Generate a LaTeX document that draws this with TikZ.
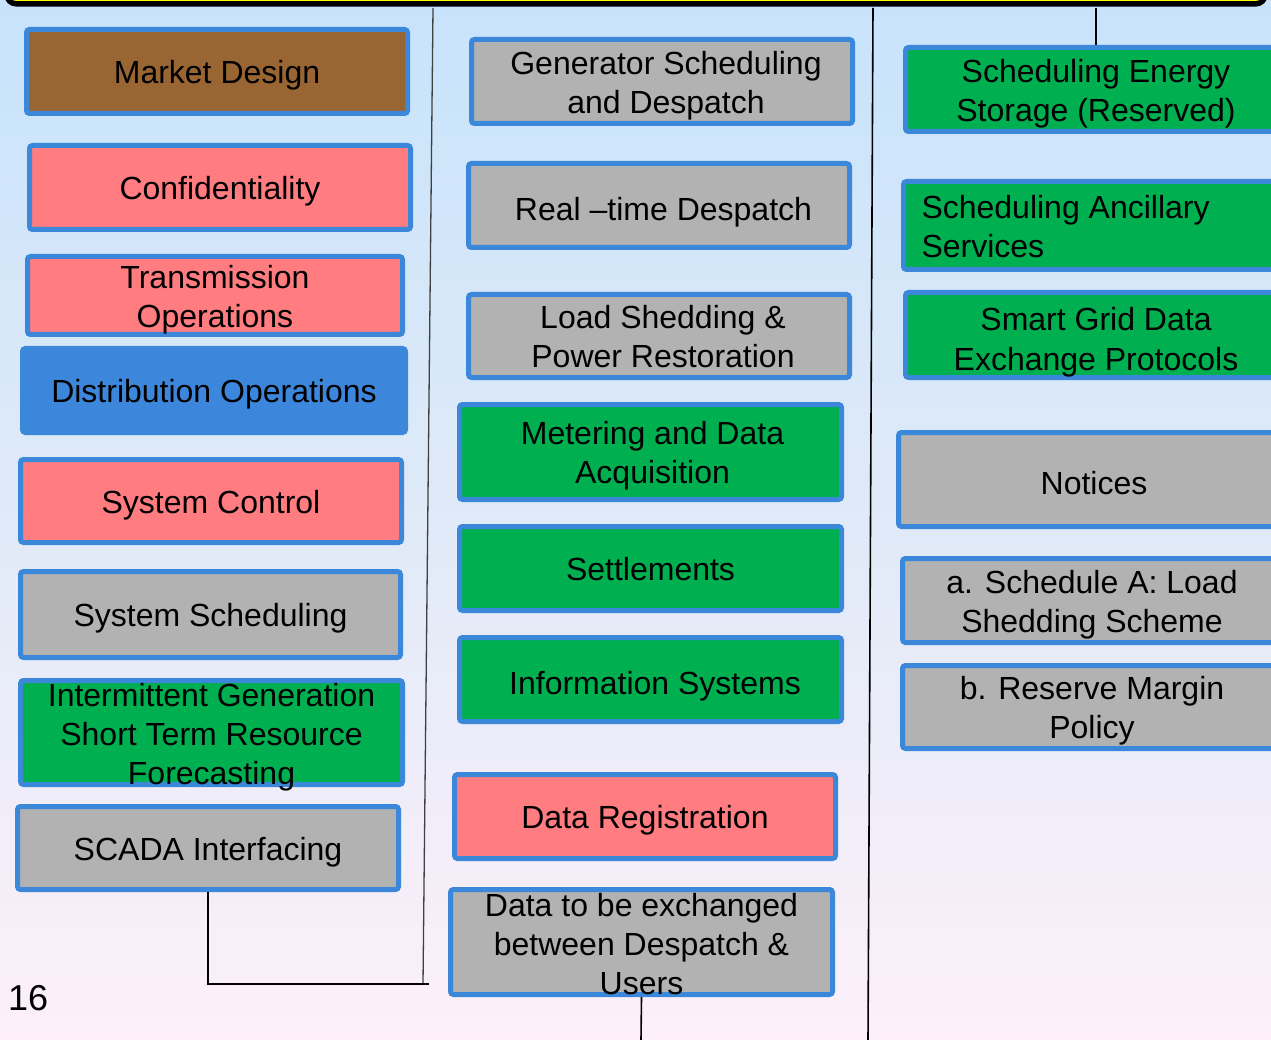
\documentclass[tikz,border=0pt]{standalone}
\usepackage{fontspec}
\setmainfont{Liberation Sans}
\definecolor{bdr}{RGB}{59,135,217}
\definecolor{cbrown}{RGB}{153,102,51}
\definecolor{cpink}{RGB}{255,124,128}
\definecolor{cgray}{RGB}{178,178,178}
\definecolor{cgreen}{RGB}{0,176,80}
\definecolor{cblue}{RGB}{60,135,219}
\definecolor{bgtop}{RGB}{199,227,251}
\definecolor{bgmid}{RGB}{224,234,248}
\definecolor{bgbot}{RGB}{253,240,250}
\definecolor{ctop}{RGB}{255,255,0}
\newcommand\txr[3][c]{\raisebox{#2}[\height][\depth]{\begin{tabular}{@{}#1@{}}#3\end{tabular}}}
\newcommand\tx[2][c]{\txr[#1]{-4.5pt}{#2}}
\tikzset{
  bx/.style={draw=bdr, line width=5pt, rounded corners=3pt, inner sep=0pt,
    font=\fontsize{32}{39}\selectfont, text=black},
  conn/.style={draw=black, line width=1.6pt},
  thinconn/.style={draw=black!75, line width=1.3pt},
}
\begin{document}
\begin{tikzpicture}[x=1pt,y=-1pt]
\useasboundingbox (0,0) rectangle (1271,1040);
\clip (0,0) rectangle (1271,1040);
\shade[top color=bgtop, bottom color=bgbot, middle color=bgmid] (0,0) rectangle (1271,1040);
\draw[line width=5.5pt, fill=ctop, rounded corners=9pt] (7,-60) rectangle (1265,3.8);

% left column
\node[bx, fill=cbrown, minimum width=381pt, minimum height=84pt] (market) at (217,71.5) {\tx{Market Design}};
\node[bx, fill=cpink, minimum width=381pt, minimum height=84pt] (conf) at (220,187.5) {\tx{Confidentiality}};
\node[bx, fill=cpink, minimum width=375pt, minimum height=78pt] (trans) at (215,295.5) {\tx{Transmission\\Operations}};
\node[bx, fill=cblue, minimum width=383pt, minimum height=84pt] (dist) at (214,390.5) {\tx{Distribution Operations}};
\node[bx, fill=cpink, minimum width=381pt, minimum height=83pt] (sysctl) at (211,501) {\tx{System Control}};
\node[bx, fill=cgray, minimum width=380pt, minimum height=86pt] (syssched) at (210.5,614.5) {\tx{System Scheduling}};
\node[bx, fill=cgreen, minimum width=382pt, minimum height=104pt] (interm) at (211.5,732.5) {\raisebox{-7pt}[0pt][0pt]{\tx{Intermittent Generation\\Short Term Resource\\Forecasting}}};
\node[bx, fill=cgray, minimum width=381pt, minimum height=83pt] (scada) at (208,848) {\tx{SCADA Interfacing}};

% middle column
\node[bx, fill=cgray, minimum width=381pt, minimum height=84pt] (gen) at (662,81.5) {\hspace*{8pt}\tx{Generator Scheduling\\and Despatch}};
\node[bx, fill=cgray, minimum width=381pt, minimum height=84pt] (rt) at (659,205.5) {\hspace*{9pt}\txr{-7.5pt}{Real –time Despatch}};
\node[bx, fill=cgray, minimum width=381pt, minimum height=83pt] (load) at (659,336) {\hspace*{8pt}\tx{Load Shedding \&\\Power Restoration}};
\node[bx, fill=cgreen, minimum width=382pt, minimum height=95pt] (meter) at (650.5,452) {\hspace*{4pt}\tx{Metering and Data\\Acquisition}};
\node[bx, fill=cgreen, minimum width=382pt, minimum height=84pt] (settle) at (650.5,568.5) {\tx{Settlements}};
\node[bx, fill=cgreen, minimum width=382pt, minimum height=84pt] (info) at (650.5,679.5) {\hspace*{9pt}\txr{-7.5pt}{Information Systems}};
\node[bx, fill=cpink, minimum width=381pt, minimum height=84pt] (datareg) at (645,816.5) {\tx{Data Registration}};
\node[bx, fill=cgray, minimum width=382pt, minimum height=105pt] (dataex) at (641.5,942) {\raisebox{-7pt}[0pt][0pt]{\tx{Data to be exchanged\\between Despatch \&\\Users}}};

% right column
\node[bx, fill=cgreen, minimum width=381pt, minimum height=84pt] (ses) at (1096,89.5) {\tx{Scheduling Energy\\Storage (Reserved)}};
\node[bx, fill=cgreen, minimum width=381pt, minimum height=88pt] (anc) at (1094,225.5) {\makebox[345pt][l]{\tx[l]{Scheduling Ancillary\\Services}}};
\node[bx, fill=cgreen, minimum width=381pt, minimum height=85pt, font=\fontsize{32}{40}\selectfont] (sg) at (1096,335) {\txr{-7.5pt}{Smart Grid Data\\Exchange Protocols}};
\node[bx, fill=cgray, minimum width=391pt, minimum height=94pt] (notices) at (1094,479.5) {\txr{-7.5pt}{Notices}};
\node[bx, fill=cgray, minimum width=379pt, minimum height=84pt] (scha) at (1092,600.5) {\tx{a. Schedule A: Load\\Shedding Scheme}};
\node[bx, fill=cgray, minimum width=379pt, minimum height=83pt] (rmp) at (1092,707) {\tx{b. Reserve Margin\\Policy}};

% connectors
\coordinate (l1top) at (433,8);
\coordinate (l1bot) at (423,984);
\coordinate (l1end) at (429,984);
\coordinate (l2top) at (873,8);
\coordinate (l2bot) at (868,1040);
\coordinate (l3top) at (1096,8);
\coordinate (l4bot) at (641,1040);
\draw[thinconn] (l1top) -- (l1bot);
\draw[conn] (scada.south) |- (l1end);
\draw[conn] (l2top) -- (l2bot);
\draw[conn] (l3top) -- (ses.north);
\draw[conn] (dataex.south) -- (l4bot);

\node[font=\fontsize{36}{40}\selectfont, anchor=base west, inner sep=0pt] (pnum) at (8,1010) {16};
\end{tikzpicture}
\end{document}
